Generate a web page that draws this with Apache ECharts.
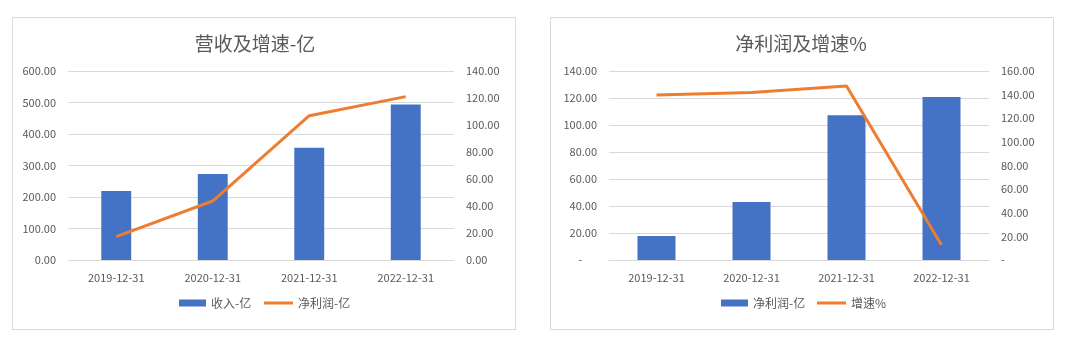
<!DOCTYPE html>
<html>
<head>
<meta charset="utf-8">
<script src="https://cdn.jsdelivr.net/npm/echarts@6/dist/echarts.min.js"></script>
<style>
html,body{margin:0;padding:0;background:#fff;}
#c1,#c2{position:absolute;top:0;width:540px;height:346px;}
#c1{left:0;} #c2{left:540px;}
</style>
</head>
<body>
<div id="c1"></div>
<div id="c2"></div>
<script>
const categories = ['2019-12-31', '2020-12-31', '2021-12-31', '2022-12-31'];
// chart 1: 营收及增速-亿
const revenue = [219, 273, 356, 494];
const netProfit = [17.3, 43.7, 106.9, 121.0];
// chart 2: 净利润及增速%
const netProfit2 = [17.8, 43.0, 107.2, 120.7];
const growthPct = [139.7, 141.7, 147.3, 12.7];

const FONT = '"Noto Sans CJK SC", "Noto Sans", sans-serif';
const TXT = '#595959';
const GRID = '#d9d9d9';
const BLUE = '#4472C4';
const ORANGE = '#ED7D31';

function fmt2(v) { return v.toFixed(2); }
function fmtDash(v) { return v === 0 ? '-      ' : v.toFixed(2); }
function fmtDashR(v) { return v === 0 ? '-' : v.toFixed(2); }

function makeOption(cfg) {
  const legendText = { color: TXT, fontSize: 12, fontFamily: FONT };
  return {
    animation: false,
    textStyle: { fontFamily: FONT },
    graphic: [{
      type: 'rect', left: cfg.boxLeft, top: 15,
      shape: { width: 503, height: 312 },
      style: { fill: 'none', stroke: GRID, lineWidth: 1 }
    }],
    title: {
      text: cfg.title, left: cfg.titleCenter, top: 29, textAlign: 'center',
      textStyle: { color: TXT, fontSize: 19, fontWeight: 'normal', fontFamily: FONT }
    },
    legend: [{
      left: cfg.legend1Left, top: 297, padding: 0,
      itemWidth: 27, itemHeight: 7, itemGap: 4,
      textStyle: legendText,
      data: [{ name: cfg.barName, icon: 'rect' }]
    }, {
      left: cfg.legend2Left, top: 297, padding: 0,
      itemWidth: 29, itemHeight: 3, itemGap: 4,
      textStyle: legendText,
      data: [{ name: cfg.lineName, icon: 'rect' }]
    }],
    grid: { left: cfg.gridLeft, right: cfg.gridRight, top: 71, bottom: 86 },
    xAxis: {
      type: 'category', data: categories,
      axisLine: { lineStyle: { color: GRID, width: 1 } },
      axisTick: { show: false },
      axisLabel: { color: TXT, fontSize: 11, margin: 12, fontFamily: FONT }
    },
    yAxis: [{
      type: 'value', min: 0, max: cfg.lMax, interval: cfg.lInt,
      axisLine: { show: false }, axisTick: { show: false },
      splitLine: { lineStyle: { color: GRID, width: 1 } },
      axisLabel: { color: TXT, fontSize: 11, margin: 12, formatter: cfg.lFmt, fontFamily: FONT }
    }, {
      type: 'value', min: 0, max: cfg.rMax, interval: cfg.rInt,
      axisLine: { show: false }, axisTick: { show: false },
      splitLine: { show: false },
      axisLabel: { color: TXT, fontSize: 11, margin: 12, formatter: cfg.rFmt, fontFamily: FONT }
    }],
    series: [{
      name: cfg.barName, type: 'bar', data: cfg.barData, yAxisIndex: 0,
      barWidth: cfg.barWidth, itemStyle: { color: BLUE }
    }, {
      name: cfg.lineName, type: 'line', data: cfg.lineData, yAxisIndex: 1,
      symbol: 'none', showSymbol: false,
      lineStyle: { color: ORANGE, width: 3 }, itemStyle: { color: ORANGE }
    }]
  };
}

const c1 = echarts.init(document.getElementById('c1'), null, { renderer: 'canvas' });
c1.setOption(makeOption({
  boxLeft: 10, title: '营收及增速-亿', titleCenter: 250,
  legend1Left: 179, legend2Left: 264,
  gridLeft: 68, gridRight: 86,
  barName: '收入-亿', lineName: '净利润-亿',
  barData: revenue, lineData: netProfit, barWidth: '31%',
  lMax: 600, lInt: 100, rMax: 140, rInt: 20,
  lFmt: fmt2, rFmt: fmt2
}));

const c2 = echarts.init(document.getElementById('c2'), null, { renderer: 'canvas' });
c2.setOption(makeOption({
  boxLeft: 8, title: '净利润及增速%', titleCenter: 256,
  legend1Left: 181, legend2Left: 277,
  gridLeft: 69, gridRight: 91,
  barName: '净利润-亿', lineName: '增速%',
  barData: netProfit2, lineData: growthPct, barWidth: '40%',
  lMax: 140, lInt: 20, rMax: 160, rInt: 20,
  lFmt: fmtDash, rFmt: fmtDashR
}));
</script>
</body>
</html>
